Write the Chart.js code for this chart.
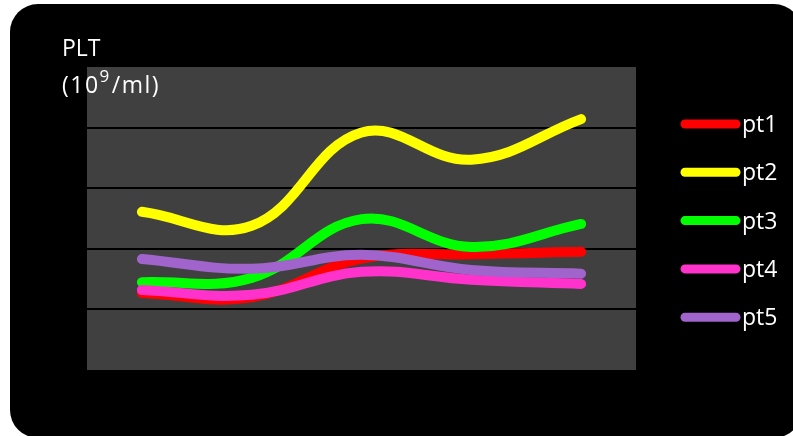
<!DOCTYPE html>
<html>
<head>
<meta charset="utf-8">
<script src="https://cdn.jsdelivr.net/npm/chart.js@4/dist/chart.umd.min.js"></script>
<style>
  html, body { margin: 0; padding: 0; background: #ffffff; overflow: hidden; }
  #frame {
    position: absolute; left: 10px; top: 4px; width: 792px; height: 434px;
    background: #000000; border-radius: 28px;
  }
  #wrap { position: absolute; left: 0; top: 0; width: 793px; height: 436px; }
</style>
</head>
<body>
<div id="frame"></div>
<div id="wrap"><canvas id="c" width="793" height="436"></canvas></div>
<script>
// Platelet counts for five patients over five visits
const visits = ['V1', 'V2', 'V3', 'V4', 'V5'];
const seriesNames = ['pt1', 'pt2', 'pt3', 'pt4', 'pt5'];
const pt1 = [1.27, 1.20, 1.84, 1.91, 1.95];
const pt2 = [2.61, 2.38, 3.92, 3.47, 4.14];
const pt3 = [1.45, 1.52, 2.49, 2.03, 2.41];
const pt4 = [1.32, 1.24, 1.62, 1.49, 1.42];
const pt5 = [1.83, 1.67, 1.90, 1.65, 1.59];
const seriesColors = ['#ff0000', '#ffff00', '#00ff00', '#ff33cc', '#a064cc'];
const yMin = 0, yMax = 5;

const FONT = '"Open Sans", sans-serif';
const allSeries = [pt1, pt2, pt3, pt4, pt5];

// grey plot background
const plotBackground = {
  id: 'plotBackground',
  beforeDraw(chart) {
    const { ctx, chartArea: a } = chart;
    ctx.save();
    ctx.fillStyle = '#404040';
    ctx.fillRect(a.left, a.top, a.right - a.left, a.bottom - a.top);
    ctx.restore();
  }
};

// axis caption with superscript exponent, and the series key on the right
const annotations = {
  id: 'annotations',
  afterDraw(chart) {
    const ctx = chart.ctx;
    ctx.save();
    ctx.fillStyle = '#ffffff';
    ctx.textBaseline = 'alphabetic';
    ctx.font = '23px ' + FONT;
    ctx.fillText('PLT', 62, 56);
    let x = 62;
    const base = 93;
    ctx.letterSpacing = '1.5px';
    ctx.fillText('(10', x, base);
    x += ctx.measureText('(10').width;
    ctx.font = '17px ' + FONT;
    ctx.fillText('9', x, base - 11);
    x += ctx.measureText('9').width + 1;
    ctx.font = '23px ' + FONT;
    ctx.fillText('/ml)', x, base);
    ctx.letterSpacing = '0px';

    chart.data.datasets.forEach((ds, i) => {
      const y = 124 + 48.3 * i;
      ctx.strokeStyle = ds.borderColor;
      ctx.lineWidth = 9;
      ctx.lineCap = 'round';
      ctx.beginPath();
      ctx.moveTo(685, y);
      ctx.lineTo(736, y);
      ctx.stroke();
      ctx.fillStyle = '#ffffff';
      ctx.font = '23px ' + FONT;
      ctx.fillText(ds.label, 742, y + 8);
    });
    ctx.restore();
  }
};

new Chart(document.getElementById('c'), {
  type: 'line',
  data: {
    labels: visits,
    datasets: allSeries.map((values, i) => ({
      label: seriesNames[i],
      data: values,
      borderColor: seriesColors[i],
      backgroundColor: seriesColors[i],
      borderWidth: 10,
      borderCapStyle: 'round',
      borderJoinStyle: 'round',
      pointRadius: 0,
      tension: 0.4,
      fill: false,
      order: allSeries.length - i
    }))
  },
  options: {
    responsive: false,
    animation: false,
    layout: { padding: { left: 87, top: 67, right: 157, bottom: 66 } },
    plugins: { legend: { display: false }, tooltip: { enabled: false } },
    scales: {
      x: { type: 'category', display: false, offset: true },
      y: {
        min: yMin, max: yMax,
        ticks: { display: false, stepSize: 1 },
        border: { display: false },
        grid: {
          drawTicks: false,
          lineWidth: 2,
          color: c => (c.tick && c.tick.value > yMin && c.tick.value < yMax) ? '#000000' : 'rgba(0,0,0,0)'
        },
        afterFit: s => { s.width = 0; }
      }
    }
  },
  plugins: [plotBackground, annotations]
});
</script>
</body>
</html>
